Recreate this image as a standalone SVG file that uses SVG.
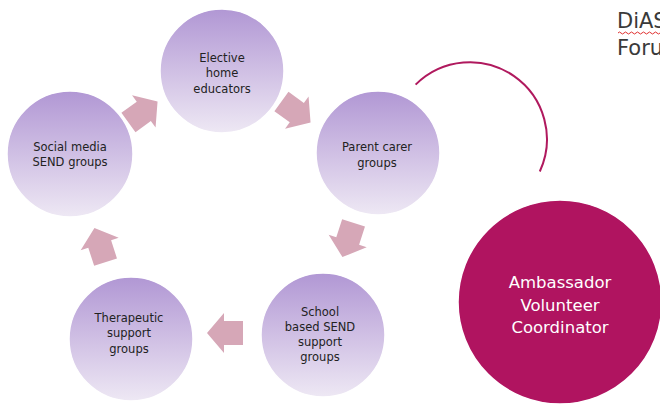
<svg xmlns="http://www.w3.org/2000/svg" width="660" height="408" viewBox="0 0 660 408">
<defs>
<linearGradient id="lav" x1="0" y1="0" x2="0" y2="1">
<stop offset="0" stop-color="#b197d4"/>
<stop offset="1" stop-color="#eee8f4"/>
</linearGradient>
<path id="arr" d="M-18,-12 L1,-12 L1,-20 L18,0 L1,20 L1,12 L-18,12 Z"/>
</defs>
<style>
.node circle.lv{fill:url(#lav);stroke:#ffffff;stroke-width:1.5}
.lbl{font-family:"DejaVu Sans","Liberation Sans",sans-serif;font-size:11.5px;fill:#222222;text-anchor:middle}
.wlbl{font-family:"DejaVu Sans","Liberation Sans",sans-serif;font-size:16.5px;fill:#ffffff;text-anchor:middle}
.ar{fill:#d6a7b7}
.hd{font-family:"DejaVu Sans","Liberation Sans",sans-serif;font-size:21px;fill:#3a3a3a}
</style>
<rect width="660" height="408" fill="#ffffff"/>
<g id="connectors">
<use href="#arr" class="ar" transform="translate(143,112) rotate(-36)"/>
<use href="#arr" class="ar" transform="translate(296,112) rotate(36)"/>
<use href="#arr" class="ar" transform="translate(348,240) rotate(108)"/>
<use href="#arr" class="ar" transform="translate(225,333) rotate(180)"/>
<use href="#arr" class="ar" transform="translate(100,245) rotate(-108)"/>
<path d="M415.6,84.6 A77,77 0 0 1 539.8,171.5" fill="none" stroke="#b0195e" stroke-width="2"/>
</g>
<g id="node-elective" class="node">
<circle class="lv" cx="222" cy="71" r="62"/>
<text class="lbl" x="222" y="62">Elective</text>
<text class="lbl" x="222" y="77">home</text>
<text class="lbl" x="222" y="93">educators</text>
</g>
<g id="node-parent" class="node">
<circle class="lv" cx="378" cy="153" r="62"/>
<text class="lbl" x="377" y="151">Parent carer</text>
<text class="lbl" x="377" y="167">groups</text>
</g>
<g id="node-school" class="node">
<circle class="lv" cx="323" cy="335" r="62"/>
<text class="lbl" x="320" y="316">School</text>
<text class="lbl" x="320" y="331">based SEND</text>
<text class="lbl" x="320" y="346">support</text>
<text class="lbl" x="320" y="361">groups</text>
</g>
<g id="node-therapeutic" class="node">
<circle class="lv" cx="131" cy="339" r="62"/>
<text class="lbl" x="129" y="322">Therapeutic</text>
<text class="lbl" x="129" y="337">support</text>
<text class="lbl" x="129" y="353">groups</text>
</g>
<g id="node-social" class="node">
<circle class="lv" cx="70" cy="154" r="63"/>
<text class="lbl" x="70" y="151">Social media</text>
<text class="lbl" x="70" y="166">SEND groups</text>
</g>
<g id="node-ambassador" class="node">
<circle cx="560" cy="302" r="102" fill="#b01460" stroke="#ffffff" stroke-width="1.5"/>
<text class="wlbl" x="560" y="288">Ambassador</text>
<text class="wlbl" x="560" y="311">Volunteer</text>
<text class="wlbl" x="560" y="333">Coordinator</text>
</g>
<g id="title">
<text class="hd" x="617" y="28">DiAS</text>
<text class="hd" x="617" y="55">Foru</text>
<path d="M618,33 q1.5,-2 3,0 t3,0 t3,0 t3,0 t3,0 t3,0 t3,0 t3,0 t3,0 t3,0 t3,0 t3,0 t3,0 t3,0" fill="none" stroke="#e03030" stroke-width="1"/>
</g>
</svg>
